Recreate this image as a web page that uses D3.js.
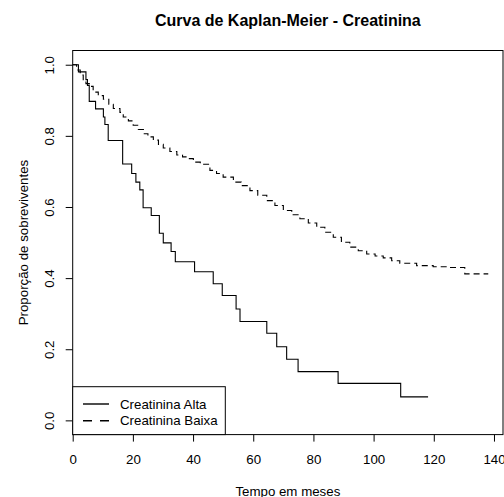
<!DOCTYPE html>
<html>
<head>
<meta charset="utf-8">
<script src="https://cdn.jsdelivr.net/npm/d3@7"></script>
<style>
  body { margin: 0; background: #fff; }
  svg { display: block; font-family: 'Liberation Sans', Arial, sans-serif; }
</style>
</head>
<body>
<svg width="504" height="497"></svg>
<script>
// Creatinina Alta (solid)
const altaTime = [0, 1.9, 4.4, 4.9, 5.5, 7.6, 10.2, 10.7, 11.8, 16.6, 19.6, 21.0, 22.3, 23.4, 26.1, 28.8, 30.1, 32.7, 34.1, 40.5, 46.7, 49.7, 54.3, 55.6, 64.5, 67.8, 71.1, 74.9, 88.2, 109.0, 118.1]
const altaSurv = [1, 0.980, 0.958, 0.942, 0.897, 0.876, 0.853, 0.832, 0.787, 0.721, 0.694, 0.670, 0.648, 0.598, 0.576, 0.526, 0.499, 0.475, 0.446, 0.418, 0.384, 0.351, 0.313, 0.278, 0.245, 0.207, 0.172, 0.137, 0.104, 0.066, 0.066]

// Creatinina Baixa (dashed)
const baixaTime = [0, 1.3, 2.5, 3.5, 4.4, 5.7, 6.8, 8.5, 10.2, 12.0, 13.5, 15.7, 16.8, 18.5, 20.1, 21.8, 23.5, 25.0, 26.8, 28.5, 30.1, 32.3, 34.6, 36.5, 38.4, 40.1, 42.4, 45.6, 47.8, 50.0, 53.4, 56.0, 58.9, 61.5, 64.5, 67.2, 70.0, 72.8, 75.5, 78.3, 81.1, 83.8, 86.6, 89.3, 92.1, 94.9, 97.7, 100.5, 103.2, 106.0, 108.7, 114.3, 119.8, 125.0, 130.3, 138.1]
const baixaSurv = [1, 0.985, 0.971, 0.958, 0.947, 0.939, 0.923, 0.913, 0.903, 0.889, 0.877, 0.866, 0.853, 0.842, 0.830, 0.818, 0.806, 0.797, 0.788, 0.776, 0.766, 0.756, 0.746, 0.741, 0.736, 0.726, 0.720, 0.703, 0.694, 0.684, 0.670, 0.660, 0.646, 0.633, 0.618, 0.604, 0.590, 0.578, 0.567, 0.555, 0.543, 0.529, 0.515, 0.501, 0.487, 0.477, 0.468, 0.462, 0.457, 0.449, 0.442, 0.435, 0.432, 0.430, 0.412, 0.412]

const xTicks = [0, 20, 40, 60, 80, 100, 120, 140]
const yTicks = [0, 0.2, 0.4, 0.6, 0.8, 1.0]
const legendLabels = ['Creatinina Alta', 'Creatinina Baixa']

const svg = d3.select('svg')
const box = {left: 72.7, right: 503, top: 50.5, bottom: 434.6}
const fs = 13.3

const x = d3.scaleLinear().domain([0, 143]).range([box.left, box.right])
const y = d3.scaleLinear().domain([-0.04, 1.04]).range([box.bottom, box.top])

const line = d3.line()
  .curve(d3.curveStepAfter)
  .x(d => x(d[0]))
  .y(d => y(d[1]))

const alta = altaTime.map((t, i) => [t, altaSurv[i]])
const baixa = baixaTime.map((t, i) => [t, baixaSurv[i]])

svg.append('path')
  .attr('d', line(alta))
  .attr('fill', 'none')
  .attr('stroke', '#000')
  .attr('stroke-width', 1.1)

svg.append('path')
  .attr('d', line(baixa))
  .attr('fill', 'none')
  .attr('stroke', '#000')
  .attr('stroke-width', 1.1)
  .attr('stroke-dasharray', '6,4')

// axes
const gx = svg.append('g')
  .attr('transform', 'translate(0,' + box.bottom + ')')
  .call(d3.axisBottom(x).tickValues(xTicks).tickFormat(d3.format('d')).tickSize(7).tickPadding(13))
gx.select('.domain').remove()
gx.selectAll('text').style('font-size', fs + 'px').attr('fill', '#000')

const gy = svg.append('g')
  .attr('transform', 'translate(' + box.left + ',0)')
  .call(d3.axisLeft(y).tickValues(yTicks).tickFormat(d3.format('.1f')).tickSize(7))
gy.select('.domain').remove()
gy.selectAll('text')
  .style('font-size', fs + 'px')
  .attr('fill', '#000')
  .attr('transform', 'rotate(-90)')
  .attr('text-anchor', 'middle')
  .attr('x', 0)
  .attr('y', -18.5)
  .attr('dy', null)

svg.append('rect')
  .attr('x', box.left)
  .attr('y', box.top)
  .attr('width', box.right - box.left)
  .attr('height', box.bottom - box.top)
  .attr('fill', 'none')
  .attr('stroke', '#000')

// legend
const lg = svg.append('g')
lg.append('rect')
  .attr('x', box.left)
  .attr('y', 386.7)
  .attr('width', 152.6)
  .attr('height', box.bottom - 386.7)
  .attr('fill', '#fff')
  .attr('stroke', '#000')
legendLabels.forEach((label, i) => {
  const ly = 404 + i * 16.7
  lg.append('line')
    .attr('x1', 83).attr('x2', 109)
    .attr('y1', ly).attr('y2', ly)
    .attr('stroke', '#000')
    .attr('stroke-width', 1.4)
    .attr('stroke-dasharray', i === 1 ? '9,8' : null)
  lg.append('text')
    .attr('x', 120)
    .attr('y', ly)
    .attr('dy', '0.35em')
    .style('font-size', fs + 'px')
    .text(label)
})

// titles
const cx = (box.left + box.right) / 2
svg.append('text')
  .attr('x', cx)
  .attr('y', 26)
  .attr('text-anchor', 'middle')
  .style('font-size', '16px')
  .style('font-weight', 'bold')
  .text('Curva de Kaplan-Meier - Creatinina')

svg.append('text')
  .attr('x', cx)
  .attr('y', 496)
  .attr('text-anchor', 'middle')
  .style('font-size', fs + 'px')
  .text('Tempo em meses')

svg.append('text')
  .attr('transform', 'translate(27.5,' + ((box.top + box.bottom) / 2) + ') rotate(-90)')
  .attr('text-anchor', 'middle')
  .style('font-size', fs + 'px')
  .text('Proporção de sobreviventes')
</script>
</body>
</html>
